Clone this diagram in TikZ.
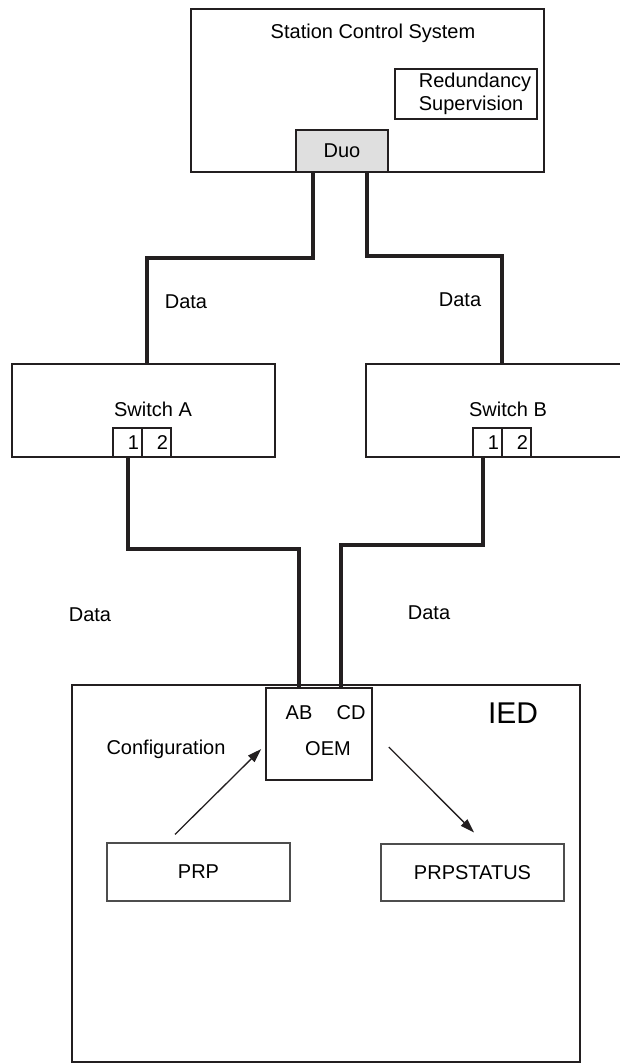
\documentclass[tikz,border=0pt]{standalone}
\usepackage{fontspec}
\setmainfont{Liberation Sans}
\usepackage{xcolor}
\usetikzlibrary{positioning,arrows.meta}
\definecolor{negro}{HTML}{231F20}
\definecolor{gris}{HTML}{4D4D4D}
\definecolor{grisclaro}{HTML}{DFDFDF}

\begin{document}
\begin{tikzpicture}[x=1pt, y=-1pt, font=\fontsize{20}{23}\selectfont,
  caja/.style={draw=negro, line width=1.8pt, inner sep=0pt},
  cajafina/.style={draw=gris, line width=1.2pt, align=left, inner sep=0pt},
  puerto/.style={draw=negro, line width=1.1pt, fill=white, minimum width=29pt, minimum height=29pt,
    text width=23pt, align=right, inner sep=3pt, outer sep=0pt},
  texto/.style={inner sep=0pt},
  enlace/.style={line width=4pt, color=negro},
  fl/.style={-{Triangle[length=14pt, width=9pt]}, line width=1.3pt, color=negro}]
  \useasboundingbox (0,0) rectangle (620,1064);
  % estacion
  \node[caja, minimum width=353pt, minimum height=163pt] (scs) at (367.5,90.5) {};
  \node[texto] (tscs) at (373,33) {Station Control System};
  \node[cajafina, draw=negro, minimum width=142pt, minimum height=50pt] (red) at (466,94)
    {\hspace*{18pt}Redundancy\\\hspace*{18pt}Supervision};
  \node[caja, line width=1.5pt, fill=grisclaro, minimum width=92pt, minimum height=42pt] (duo) at (342,151) {Duo};
  % switches
  \node[caja, minimum width=263pt, minimum height=93pt] (swa) at (143.5,410.5) {};
  \node[texto] (tswa) at (153,409) {Switch A};
  \node[puerto] (pa1) at (127.5,442.5) {1};
  \node[puerto, right=0pt of pa1] (pa2) {2};
  \node[caja, minimum width=255pt, minimum height=93pt] (swb) at (493.5,410.5) {};
  \node[texto] (tswb) at (508,409) {Switch B};
  \node[puerto] (pb1) at (487.5,442.5) {1};
  \node[puerto, right=0pt of pb1] (pb2) {2};
  \node[texto] (d1) at (186,302) {Data};
  \node[texto] (d2) at (460,300) {Data};
  \node[texto] (d3) at (90,615) {Data};
  \node[texto] (d4) at (429,613) {Data};
  % IED
  \node[caja, minimum width=508pt, minimum height=377pt] (ied) at (326,873.5) {};
  \node[texto, font=\fontsize{30}{34}\selectfont] (tied) at (513,713) {IED};
  \node[caja, line width=1.5pt, fill=white, minimum width=106pt, minimum height=92pt] (oem) at (319,734) {};
  \node[texto] (tab) at (299,713) {AB};
  \node[texto] (tcd) at (351,713) {CD};
  \node[texto] (toem) at (328,749) {OEM};
  \node[texto] (tconf) at (166,749) {Configuration};
  \node[cajafina, minimum width=183pt, minimum height=58pt] (prp) at (198.5,872) {PRP};
  \node[cajafina, minimum width=183pt, minimum height=57pt] (prps) at (472.5,872.5) {PRPSTATUS};
  % enlaces
  \draw[enlace] ([xshift=-29pt]duo.south) -- ++(0,85) -| ([xshift=3.5pt]swa.north);
  \draw[enlace] ([xshift=25pt]duo.south) -- ++(0,83) -| ([xshift=8.5pt]swb.north);
  \draw[enlace] (pa1.south) -- ++(0,92) -| ([xshift=-20pt]oem.north);
  \draw[enlace] ([xshift=-4.5pt]pb1.south) -- ++(0,88) -| ([xshift=22pt]oem.north);
  \draw[fl] ([xshift=-23.5pt,yshift=8pt]prp.north) -- ([xshift=-4pt,yshift=-15pt]oem.west);
  \draw[fl] ([xshift=16pt,yshift=-13pt]oem.east) -- ([xshift=1.5pt,yshift=11pt]prps.north);
\end{tikzpicture}
\end{document}
